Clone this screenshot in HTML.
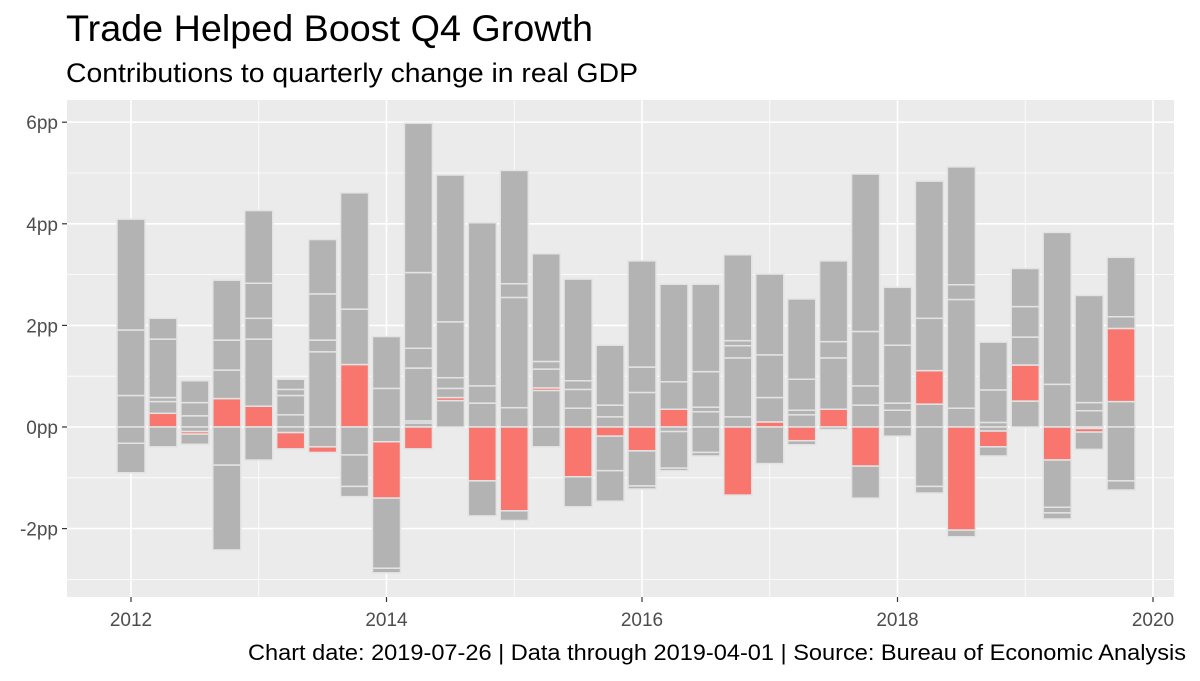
<!DOCTYPE html>
<html><head><meta charset="utf-8"><style>
body{margin:0;background:#fff;width:1200px;height:676px;overflow:hidden;font-family:"Liberation Sans",sans-serif}
</style></head><body>
<svg id="chart" width="1200" height="676" xmlns="http://www.w3.org/2000/svg">
<text x="66" y="41" font-size="37" textLength="527" lengthAdjust="spacingAndGlyphs" fill="#000">Trade Helped Boost Q4 Growth</text>
<text x="66" y="82" font-size="27" textLength="572" lengthAdjust="spacingAndGlyphs" fill="#000">Contributions to quarterly change in real GDP</text>
<rect x="67" y="100" width="1107" height="497" fill="#ebebeb"/>
<g id="grid"></g><g id="bars"></g><g id="axes"></g>
<text x="248" y="660" font-size="22" textLength="938" lengthAdjust="spacingAndGlyphs" fill="#000">Chart date: 2019-07-26 | Data through 2019-04-01 | Source: Bureau of Economic Analysis</text>
</svg>
<script>
const startYear = 2012;
const quarterCount = 32;
const posSegs = [
[0.62,1.29,2.18],[0.27,0.23,0.08,1.15,0.41],[0.22,0.26,0.43],[0.56,0.56,0.59,1.18],
[0.41,1.32,0.41,0.69,1.43],[0.24,0.38,0.12,0.20],[1.48,0.23,0.91,1.07],[1.23,1.09,2.29],
[0.76,1.02],[0.08,0.04,1.04,0.39,1.49,2.94],[0.52,0.06,0.18,0.21,1.10,2.89],[0.47,0.34,3.21],
[0.38,2.17,0.27,2.23],[0.72,0.05,0.37,0.15,2.12],[0.37,0.37,0.17,2.00],[0.20,0.23,1.18],
[0.68,0.50,2.09],[0.35,0.54,1.92],[0.30,0.09,0.70,1.72],[0.20,1.16,0.24,0.10,1.69],
[0.10,0.48,0.84,1.59],[0.24,0.09,0.61,1.58],[0.35,1.01,0.32,1.59],[0.43,0.38,1.07,3.10],
[0.33,0.14,1.14,1.14],[0.45,0.66,1.03,2.70],[0.37,2.14,0.29,2.32],[0.09,0.64,0.94],
[0.51,0.71,0.55,0.60,0.75],[0.84,2.99],[0.32,0.16,2.11],[0.50,1.44,0.23,1.17]];
const posRed = [-1,0,-1,0,0,-1,-1,0,-1,-1,1,-1,-1,1,-1,-1,-1,0,-1,-1,0,-1,0,-1,-1,1,-1,-1,1,-1,-1,1];
const negSegs = [
[-0.32,-0.58],[-0.39],[-0.09,-0.05,-0.20],[-0.75,-1.67],
[-0.65],[-0.11,-0.32],[-0.39,-0.11],[-0.55,-0.62,-0.20],
[-0.29,-1.11,-1.38,-0.09],[-0.43],[],[-1.06,-0.69],
[-1.65,-0.19],[-0.39],[-0.98,-0.59],[-0.18,-0.68,-0.60],
[-0.47,-0.69,-0.06],[-0.09,-0.72,-0.05],[-0.50,-0.07],[-1.34],
[-0.72],[-0.27,-0.08],[-0.05],[-0.77,-0.63],
[-0.18],[-1.17,-0.13],[-2.03,-0.13],[-0.08,-0.31,-0.18],
[],[-0.65,-0.93,-0.11,-0.12],[-0.03,-0.07,-0.34],[-1.06,-0.18]];
const negRed = [-1,-1,1,-1,-1,1,1,-1,1,0,-1,0,0,-1,0,0,0,-1,-1,0,-1,0,-1,0,-1,-1,0,1,-1,0,1,-1];
const yTicks = [6,4,2,0,-2];
const yTickLabels = ["6pp","4pp","2pp","0pp","-2pp"];
const yMinor = [5,3,1,-1,-3];
const xTicks = [2012,2014,2016,2018,2020];
const xMinor = [2013,2015,2017,2019];

const NS="http://www.w3.org/2000/svg";
const y = v => 427 - v*50.8;
const x = t => 131 + (t-2012)*127.75;
function mk(tag, attrs, parent){const e=document.createElementNS(NS,tag);for(const k in attrs)e.setAttribute(k,attrs[k]);parent.appendChild(e);return e;}
const grid=document.getElementById('grid'), bars=document.getElementById('bars'), axes=document.getElementById('axes');
yMinor.forEach(v=>{const l=mk('line',{x1:67,x2:1174,y1:y(v),y2:y(v),stroke:'#fff','stroke-width':0.8},grid);

});
xMinor.forEach(t=>{const l=mk('line',{x1:x(t),x2:x(t),y1:100,y2:597,stroke:'#fff','stroke-width':0.8},grid);

});
yTicks.forEach((v,i)=>{const l=mk('line',{x1:67,x2:1174,y1:y(v),y2:y(v),stroke:'#fff','stroke-width':1.6},grid);


const tk=mk('line',{x1:62,x2:67,y1:y(v),y2:y(v),stroke:'#333','stroke-width':1.2},axes);


const t=mk('text',{x:58,y:y(v)+7,'font-size':19,'text-anchor':'end',fill:'#4d4d4d'},axes);t.textContent=yTickLabels[i];

});
xTicks.forEach(tv=>{const l=mk('line',{x1:x(tv),x2:x(tv),y1:100,y2:597,stroke:'#fff','stroke-width':1.6},grid);


const tk=mk('line',{x1:x(tv),x2:x(tv),y1:597,y2:602,stroke:'#333','stroke-width':1.2},axes);


const t=mk('text',{x:x(tv),y:626,'font-size':19,'text-anchor':'middle',fill:'#4d4d4d'},axes);t.textContent=tv;

});
for(let i=0;i<quarterCount;i++){
  const cx=x(startYear+i/4), w=28;
  const g=mk('g',{},bars);
  
  
  let acc=0;
  posSegs[i].forEach((v,j)=>{const r=mk('rect',{x:cx-w/2,y:y(acc+v),width:w,height:Math.max(0.5,y(acc)-y(acc+v)),fill:j===posRed[i]?'#f8766d':'#b3b3b3',stroke:'#e3e3e3','stroke-width':1.5},g);
    
    acc+=v;});
  acc=0;
  negSegs[i].forEach((v,j)=>{const r=mk('rect',{x:cx-w/2,y:y(acc),width:w,height:Math.max(0.5,y(acc+v)-y(acc)),fill:j===negRed[i]?'#f8766d':'#b3b3b3',stroke:'#e3e3e3','stroke-width':1.5},g);
    
    acc+=v;});
}
</script>
</body></html>
